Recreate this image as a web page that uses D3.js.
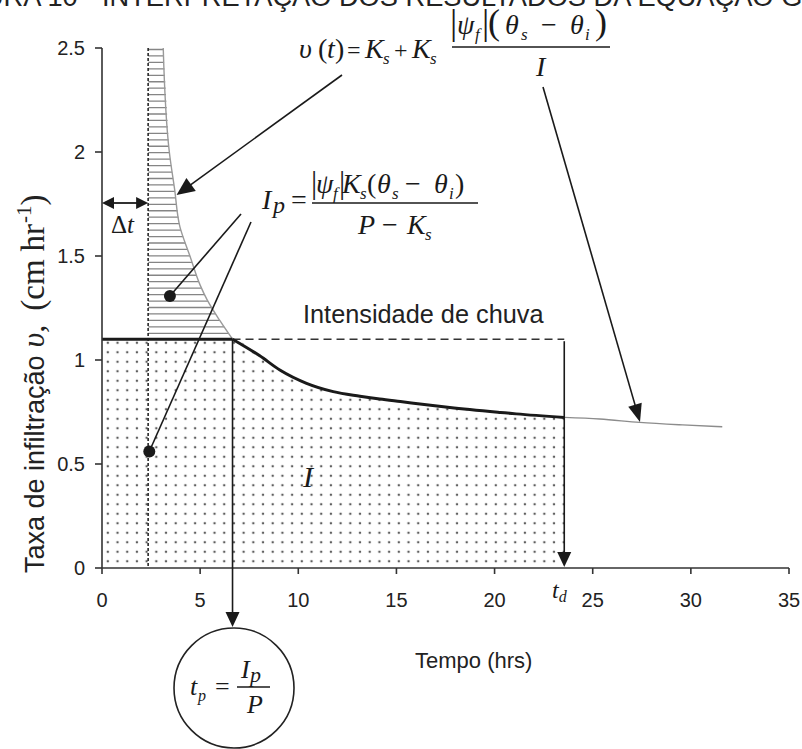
<!DOCTYPE html>
<html>
<head>
<meta charset="utf-8">
<script src="https://cdn.jsdelivr.net/npm/d3@7"></script>
<style>
  html, body { margin: 0; padding: 0; background: #fff; }
  svg { display: block; }
</style>
</head>
<body>
<div id="chart"></div>
<script>
// Green-Ampt infiltration: rainfall intensity, ponding time and infiltration rate
const xTicks = [0, 5, 10, 15, 20, 25, 30, 35];
const yTicks = [0, 0.5, 1, 1.5, 2, 2.5];
const xTickLabels = ["0", "5", "10", "15", "20", "25", "30", "35"];
const yTickLabels = ["0", "0.5", "1", "1.5", "2", "2.5"];

const rainIntensity = 1.1;   // P (cm/hr)
const deltaT = 2.35;         // Δt (hrs)
const pondingTime = 6.65;    // tp (hrs)
const stormDuration = 23.55; // td (hrs)

// infiltration capacity before ponding (t, v)
const capacityCurve = [
  [3.12, 2.5], [3.43, 2.0], [3.7, 1.82], [3.97, 1.64], [4.48, 1.5],
  [5.0, 1.36], [5.35, 1.29], [6.0, 1.19], [6.65, 1.1]
];
// actual infiltration rate after ponding (t, v)
const pondedCurve = [
  [6.65, 1.1], [8.04, 1.02], [9.06, 0.952], [10.42, 0.888], [11.78, 0.848],
  [13.14, 0.826], [14.15, 0.812], [15.2, 0.8], [17.72, 0.772], [20.3, 0.748],
  [21.1, 0.741], [23.55, 0.724]
];
// infiltration rate after the end of rain (t, v)
const tailCurve = [
  [23.55, 0.724], [25.36, 0.716], [27.39, 0.7], [29.58, 0.688], [31.6, 0.679]
];
// marker dots of the Ip pointer (t, v)
const ipDots = [[3.46, 1.308], [2.41, 0.56]];

const W = 802, H = 749;
const svg = d3.select("#chart").append("svg").attr("width", W).attr("height", H);

const x = d3.scaleLinear().domain([0, 35]).range([102, 789]);
const y = d3.scaleLinear().domain([0, 2.5]).range([568, 48]);

const SERIF = "'Liberation Serif', 'Times New Roman', serif";
const SANS = "'Liberation Sans', Arial, sans-serif";
const INK = "#1a1a1a";

const defs = svg.append("defs");
const pat = defs.append("pattern").attr("id", "dots")
  .attr("patternUnits", "userSpaceOnUse")
  .attr("x", x(0) + 1).attr("y", y(0) - 2)
  .attr("width", 9.7).attr("height", 9.5);
pat.append("circle").attr("cx", 4.8).attr("cy", 4.7).attr("r", 1.25).attr("fill", "#5e5e5e");

// figure caption (cut at the top edge); sized so the main part spans a fixed width
const capMain = svg.append("text").attr("x", 102).attr("y", 6)
  .attr("font-family", SANS).attr("font-size", 26).attr("fill", "#222")
  .text("INTERPRETAÇÃO DOS RESULTADOS DA EQUAÇÃO");
const capSize = 26 * 672 / capMain.node().getComputedTextLength();
capMain.attr("font-size", capSize);
const capW = capMain.node().getComputedTextLength();
svg.append("text").attr("x", 102 + capW + capSize * 0.28).attr("y", 6)
  .attr("font-family", SANS).attr("font-size", capSize).attr("fill", "#222")
  .text("GREEN-AMPT");
svg.append("text").attr("x", 102 - capSize * 0.28).attr("y", 6).attr("text-anchor", "end")
  .attr("font-family", SANS).attr("font-size", capSize).attr("fill", "#222")
  .text("FIGURA 10 -");

// dotted area: cumulative infiltration I
const areaData = [[0, rainIntensity]].concat(pondedCurve);
const area = d3.area().x(d => x(d[0])).y0(y(0)).y1(d => y(d[1])).curve(d3.curveMonotoneX);
svg.append("path").datum(areaData).attr("d", area).attr("fill", "url(#dots)");

// hatched area: excess before ponding
const capLine = d3.line().x(d => x(d[0])).y(d => y(d[1])).curve(d3.curveMonotoneY);
defs.append("clipPath").attr("id", "hatchClip").append("path")
  .attr("d", () => {
    const top = capacityCurve.slice().reverse();
    const p = d3.path();
    p.moveTo(x(deltaT), y(2.5));
    p.lineTo(x(deltaT), y(rainIntensity));
    p.lineTo(x(pondingTime), y(rainIntensity));
    top.forEach(d => p.lineTo(x(d[0]), y(d[1])));
    p.closePath();
    return p.toString();
  });
const hatchG = svg.append("g").attr("clip-path", "url(#hatchClip)");
d3.range(y(2.5) + 1.5, y(rainIntensity), 6.45).forEach(py => {
  hatchG.append("line").attr("x1", x(deltaT)).attr("x2", x(pondingTime) + 2)
    .attr("y1", py).attr("y2", py).attr("stroke", "#858585").attr("stroke-width", 1.3);
});

// infiltration capacity curve (thin grey)
svg.append("path").datum(capacityCurve).attr("d", capLine)
  .attr("fill", "none").attr("stroke", "#9a9a9a").attr("stroke-width", 1.4);
svg.append("path").datum(tailCurve)
  .attr("d", d3.line().x(d => x(d[0])).y(d => y(d[1])).curve(d3.curveMonotoneX))
  .attr("fill", "none").attr("stroke", "#8c8c8c").attr("stroke-width", 1.4);

// Δt dashed vertical line
svg.append("line").attr("x1", x(deltaT)).attr("x2", x(deltaT))
  .attr("y1", y(2.5)).attr("y2", y(0))
  .attr("stroke", INK).attr("stroke-width", 1.5).attr("stroke-dasharray", "3,2");

// rainfall intensity: solid until ponding, dashed until end of rain
svg.append("line").attr("x1", x(0)).attr("x2", x(pondingTime))
  .attr("y1", y(rainIntensity)).attr("y2", y(rainIntensity))
  .attr("stroke", INK).attr("stroke-width", 3);
svg.append("line").attr("x1", x(pondingTime)).attr("x2", x(stormDuration))
  .attr("y1", y(rainIntensity)).attr("y2", y(rainIntensity))
  .attr("stroke", "#333").attr("stroke-width", 1.6).attr("stroke-dasharray", "8,5");

// actual infiltration after ponding
svg.append("path").datum(pondedCurve)
  .attr("d", d3.line().x(d => x(d[0])).y(d => y(d[1])).curve(d3.curveMonotoneX))
  .attr("fill", "none").attr("stroke", INK).attr("stroke-width", 3);

// axes
const axisG = svg.append("g");
axisG.append("line").attr("x1", x(0)).attr("x2", x(35)).attr("y1", y(0)).attr("y2", y(0))
  .attr("stroke", "#333").attr("stroke-width", 1.6);
axisG.append("line").attr("x1", x(0)).attr("x2", x(0)).attr("y1", y(0)).attr("y2", y(2.5))
  .attr("stroke", "#333").attr("stroke-width", 1.6);
xTicks.forEach((t, i) => {
  axisG.append("line").attr("x1", x(t)).attr("x2", x(t)).attr("y1", y(0)).attr("y2", y(0) + 6)
    .attr("stroke", "#333").attr("stroke-width", 1.6);
  axisG.append("text").attr("x", x(t)).attr("y", y(0) + 39).attr("text-anchor", "middle")
    .attr("font-family", SANS).attr("font-size", 20).attr("fill", "#222").text(xTickLabels[i]);
});
yTicks.forEach((t, i) => {
  axisG.append("line").attr("x1", x(0) - 7).attr("x2", x(0)).attr("y1", y(t)).attr("y2", y(t))
    .attr("stroke", "#333").attr("stroke-width", 1.6);
  axisG.append("text").attr("x", x(0) - 17).attr("y", y(t) + 7).attr("text-anchor", "end")
    .attr("font-family", SANS).attr("font-size", 20).attr("fill", "#222").text(yTickLabels[i]);
});

// axis titles
svg.append("text").attr("x", 415).attr("y", 668)
  .attr("font-family", SANS).attr("font-size", 22).attr("fill", "#222").text("Tempo (hrs)");
const yt = svg.append("text").attr("transform", "translate(44,573) rotate(-90)")
  .attr("fill", "#222");
yt.append("tspan").attr("font-family", SANS).attr("font-size", 27).text("Taxa de infiltração");
yt.append("tspan").attr("font-family", SERIF).attr("font-style", "italic").attr("font-size", 32)
  .attr("dx", 8).text("υ,");
yt.append("tspan").attr("font-family", SERIF).attr("font-size", 33).attr("dx", 14).text("(cm");
yt.append("tspan").attr("font-family", SERIF).attr("font-size", 33).attr("dx", 8).text("hr");
yt.append("tspan").attr("font-family", SERIF).attr("font-size", 21).attr("dy", -13).attr("dx", 1).text("-1");
yt.append("tspan").attr("font-family", SERIF).attr("font-size", 33).attr("dy", 13).text(")");

// helpers
function arrowHead(x1, y1, x2, y2, len, half) {
  const a = Math.atan2(y2 - y1, x2 - x1);
  const bx = x2 - len * Math.cos(a), by = y2 - len * Math.sin(a);
  const nx = -Math.sin(a) * half, ny = Math.cos(a) * half;
  return `M${x2},${y2}L${bx + nx},${by + ny}L${bx - nx},${by - ny}Z`;
}
function arrow(x1, y1, x2, y2, opts = {}) {
  const len = opts.len || 14, half = opts.half || 6;
  const a = Math.atan2(y2 - y1, x2 - x1);
  svg.append("line").attr("x1", x1).attr("y1", y1)
    .attr("x2", x2 - (len - 2) * Math.cos(a)).attr("y2", y2 - (len - 2) * Math.sin(a))
    .attr("stroke", INK).attr("stroke-width", opts.w || 1.6);
  svg.append("path").attr("d", arrowHead(x1, y1, x2, y2, len, half)).attr("fill", INK);
}
// a row of formula glyphs, each placed at its own x; subscripts drop below the baseline
function mathRow(baseline, pieces) {
  const t = svg.append("text").attr("font-family", SERIF).attr("fill", INK);
  pieces.forEach(p => {
    const kind = p[2] || "";
    const drop = kind === "sub" ? 6 : (kind === "low" ? 4 : 0);
    t.append("tspan").attr("x", p[1]).attr("y", baseline + drop)
      .attr("font-size", p[3] || (kind === "sub" ? 17 : 28))
      .attr("font-style", (kind === "it" || kind === "sub" || kind === "low") ? "italic" : "normal")
      .text(p[0]);
  });
  return t;
}

// tp and td arrows
arrow(x(pondingTime), y(rainIntensity), x(pondingTime), 627, { len: 15, half: 7 });
arrow(x(stormDuration), y(rainIntensity) + 2, x(stormDuration), y(0) - 1, { len: 15, half: 7 });

// Δt double arrow
const dtY = 203;
svg.append("line").attr("x1", x(0) + 10).attr("x2", x(deltaT) - 10).attr("y1", dtY).attr("y2", dtY)
  .attr("stroke", INK).attr("stroke-width", 1.8);
svg.append("path").attr("d", arrowHead(x(deltaT), dtY, x(0), dtY, 12, 6)).attr("fill", INK);
svg.append("path").attr("d", arrowHead(x(0), dtY, x(deltaT), dtY, 12, 6)).attr("fill", INK);
svg.append("text").attr("x", 111).attr("y", 233).attr("font-family", SERIF)
  .attr("font-size", 25).attr("fill", INK).html("Δ<tspan font-style='italic'>t</tspan>");

// v(t) arrows
arrow(342, 75, x(3.9) - 2, 195, { len: 18, half: 8 });
arrow(543, 87, 640, 422, { len: 18, half: 7 });

// Ip pointers
ipDots.forEach(d => {
  svg.append("circle").attr("cx", x(d[0])).attr("cy", y(d[1])).attr("r", 6).attr("fill", INK);
});
svg.append("line").attr("x1", 241).attr("y1", 214).attr("x2", x(ipDots[0][0])).attr("y2", y(ipDots[0][1]))
  .attr("stroke", INK).attr("stroke-width", 1.6);
svg.append("line").attr("x1", 251).attr("y1", 222).attr("x2", x(ipDots[1][0])).attr("y2", y(ipDots[1][1]))
  .attr("stroke", INK).attr("stroke-width", 1.6);

// labels
svg.append("text").attr("x", 303).attr("y", 323).attr("font-family", SANS)
  .attr("font-size", 25.3).attr("fill", "#222").text("Intensidade de chuva");
svg.append("text").attr("x", 303).attr("y", 487).attr("font-family", SERIF)
  .attr("font-style", "italic").attr("font-size", 30).attr("fill", INK).text("I");
svg.append("text").attr("x", 552).attr("y", 598).attr("font-family", SERIF)
  .attr("font-style", "italic").attr("font-size", 24).attr("fill", INK)
  .html("t<tspan font-size='16' dy='4'>d</tspan>");

// formula: v(t) = Ks + Ks |ψf|(θs − θi) / I
mathRow(58, [
  ["υ", 299, "it"], ["(", 318], ["t", 327, "it"], [")", 335], ["=", 347, "", 24],
  ["K", 365, "it"], ["s", 383, "sub"], ["+", 394, "", 24], ["K", 412, "it"], ["s", 430, "sub"]
]);
mathRow(34, [
  ["|", 450, "", 36], ["ψ", 457, "it"], ["f", 475, "sub"], ["|", 482, "", 36], ["(", 488, "", 36],
  ["θ", 505, "it"], ["s", 521, "sub"], ["−", 541], ["θ", 570, "it"], ["i", 585, "sub"], [")", 595, "", 36]
]);
svg.append("line").attr("x1", 452).attr("x2", 610).attr("y1", 47).attr("y2", 47)
  .attr("stroke", INK).attr("stroke-width", 1.4);
mathRow(76, [["I", 536, "it"]]);

// formula: Ip = |ψf|Ks(θs − θi) / (P − Ks)
mathRow(209, [["I", 262, "it"], ["p", 273, "low", 24], ["=", 291]]);
mathRow(193, [
  ["|", 311, "", 31], ["ψ", 316, "it"], ["f", 333, "sub"], ["|", 339, "", 31],
  ["K", 342, "it"], ["s", 360, "sub"], ["(", 367], ["θ", 377, "it"], ["s", 392, "sub"],
  ["−", 405], ["θ", 434, "it"], ["i", 449, "sub"], [")", 455]
]);
svg.append("line").attr("x1", 312).attr("x2", 478).attr("y1", 203).attr("y2", 203)
  .attr("stroke", INK).attr("stroke-width", 1.4);
mathRow(234, [["P", 358, "it"], ["−", 382], ["K", 407, "it"], ["s", 425, "sub"]]);

// circled formula: tp = Ip / P
svg.append("circle").attr("cx", 234).attr("cy", 688).attr("r", 60)
  .attr("fill", "none").attr("stroke", "#222").attr("stroke-width", 1.6);
mathRow(695, [["t", 190, "it", 26], ["p", 198, "sub", 16], ["=", 215, "", 26]]);
mathRow(678, [["I", 241, "it", 26], ["p", 250, "low", 22]]);
svg.append("line").attr("x1", 237).attr("x2", 270).attr("y1", 687).attr("y2", 687)
  .attr("stroke", INK).attr("stroke-width", 1.3);
mathRow(713, [["P", 247, "it", 26]]);
</script>
</body>
</html>
